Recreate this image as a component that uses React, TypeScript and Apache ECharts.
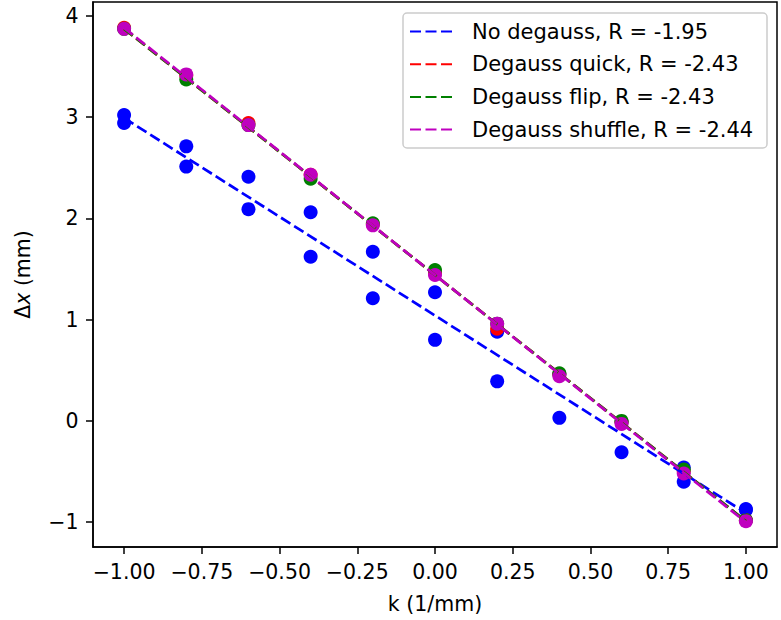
import React, { useEffect, useRef } from "react";
import * as echarts from "echarts";

const kValues = [-1, -0.8, -0.6, -0.4, -0.2, 0, 0.2, 0.4, 0.6, 0.8, 1];
const noDegaussA = [3.02, 2.71, 2.41, 2.06, 1.67, 1.27, 0.88, 0.46, -0.01, -0.46, -0.88];
const noDegaussB = [2.94, 2.51, 2.09, 1.62, 1.21, 0.8, 0.39, 0.03, -0.31, -0.6, -0.87];
const quick = [3.88, 3.41, 2.94, 2.43, 1.94, 1.46, 0.91, 0.46, -0.01, -0.5, -0.98];
const flip = [3.87, 3.37, 2.92, 2.39, 1.95, 1.49, 0.96, 0.47, 0.0, -0.48, -0.98];
const shuffle = [3.87, 3.42, 2.92, 2.43, 1.93, 1.44, 0.96, 0.44, -0.03, -0.52, -0.99];

const fitRange = [-1, 1];
const fitNo = [2.99, -0.91];
const fitQuick = [3.87, -0.99];
const fitFlip = [3.87, -0.99];
const fitShuffle = [3.88, -1.0];

const legendNames = [
  "No degauss, R = -1.95",
  "Degauss quick, R = -2.43",
  "Degauss flip, R = -2.43",
  "Degauss shuffle, R = -2.44",
];
const colors = ["#0000ff", "#ff0000", "#008000", "#bf00bf"];

const xTicks = [-1, -0.75, -0.5, -0.25, 0, 0.25, 0.5, 0.75, 1];
const yTicks = [-1, 0, 1, 2, 3, 4];

const FONT = "DejaVu Sans";
const FS = 20.5;

function pairs(ys: number[]) {
  return kValues.map((k, i) => [k, ys[i]]);
}
function fit(ends: number[]) {
  return fitRange.map((k, i) => [k, ends[i]]);
}
function fmt(v: number, d: number) {
  const s = Math.abs(v).toFixed(d);
  return v < -1e-9 ? "\u2212" + s : s;
}

export default function App() {
  const ref = useRef<HTMLDivElement>(null);
  useEffect(() => {
    if (!ref.current) return;
    const chart = echarts.init(ref.current, undefined, { renderer: "svg" });
    const groups = [
      { pts: [noDegaussA, noDegaussB], f: fitNo },
      { pts: [quick], f: fitQuick },
      { pts: [flip], f: fitFlip },
      { pts: [shuffle], f: fitShuffle },
    ];
    const series: any[] = [];
    groups.forEach((g, gi) => {
      g.pts.forEach((p, pi) => {
        series.push({
          type: "scatter",
          name: "pts" + gi + "_" + pi,
          data: pairs(p),
          symbol: "circle",
          symbolSize: 14,
          itemStyle: { color: colors[gi], opacity: 1 },
          silent: true,
        });
      });
      series.push({
        type: "line",
        name: legendNames[gi],
        data: fit(g.f),
        symbol: "none",
        showSymbol: false,
        lineStyle: { color: colors[gi], width: 2.7, type: [11, 4.5] },
        itemStyle: { color: colors[gi] },
        silent: true,
      });
    });

    chart.setOption({
      animation: false,
      textStyle: { fontFamily: FONT },
      grid: {
        left: 93,
        top: 2,
        right: 4,
        bottom: 73,
        show: true,
        borderColor: "#000",
        borderWidth: 1.5,
        containLabel: false,
      },
      xAxis: {
        type: "value",
        min: -1.1,
        max: 1.1,
        splitLine: { show: false },
        axisLine: { show: true, onZero: false, lineStyle: { color: "#000", width: 1.5 } },
        axisTick: { show: true, length: 7, lineStyle: { color: "#000", width: 1.5 }, customValues: xTicks },
        axisLabel: {
          customValues: xTicks,
          color: "#000",
          fontSize: FS,
          fontFamily: FONT,
          margin: 14,
          formatter: (v: number) => fmt(v, 2),
        },
        name: "k (1/mm)",
        nameLocation: "middle",
        nameGap: 46,
        nameTextStyle: { color: "#000", fontSize: FS, fontFamily: FONT },
      },
      yAxis: {
        type: "value",
        min: -1.245,
        max: 4.135,
        splitLine: { show: false },
        axisLine: { show: true, onZero: false, lineStyle: { color: "#000", width: 1.5 } },
        axisTick: { show: true, length: 7, lineStyle: { color: "#000", width: 1.5 }, customValues: yTicks },
        axisLabel: {
          customValues: yTicks,
          color: "#000",
          fontSize: FS,
          fontFamily: FONT,
          margin: 14.5,
          formatter: (v: number) => fmt(v, 0),
        },
        name: "{a|\u0394}{i|x}{a| (mm)}",
        nameLocation: "middle",
        nameGap: 60,
        nameRotate: 90,
        nameTextStyle: {
          color: "#000",
          fontSize: FS,
          fontFamily: FONT,
          rich: {
            a: { fontSize: FS, fontFamily: FONT, color: "#000" },
            i: { fontSize: FS, fontFamily: FONT, fontStyle: "italic", color: "#000" },
          },
        },
      },
      legend: {
        data: legendNames,
        orient: "vertical",
        left: 409,
        top: 21,
        padding: 0,
        itemWidth: 44,
        itemHeight: 20,
        itemGap: 11.7,
        selectedMode: false,
        z: 20,
        itemStyle: { opacity: 0, borderWidth: 0 },
        textStyle: {
          color: "#000",
          fontSize: 21,
          fontFamily: FONT,
          padding: [0, 0, 0, 13],
        },
      },
      graphic: [
        {
          type: "rect",
          z: 15,
          silent: true,
          shape: { x: 403, y: 13, width: 364, height: 135, r: 4 },
          style: { fill: "rgba(255,255,255,0.8)", stroke: "#cccccc", lineWidth: 1.5 },
        },
      ],
      series,
    });
    return () => chart.dispose();
  }, []);
  return (
    <div
      ref={ref}
      style={{ position: "fixed", left: 0, top: 0, width: 781, height: 620, background: "#fff" }}
    />
  );
}
